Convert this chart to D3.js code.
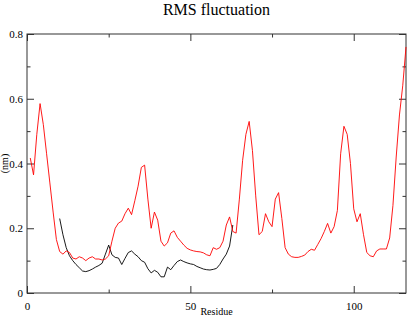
<!DOCTYPE html>
<html lang="en">
<head>
    <meta charset="UTF-8">
    <title>RMS fluctuation</title>
    <style>
        body { margin: 0; background: #fff; }
        svg { display: block; }
        text { font-family: "Liberation Serif", "DejaVu Serif", serif; fill: #000; }
    </style>
</head>
<body>
    <div id="chart"></div>
    <script src="https://d3js.org/d3.v7.min.js"></script>
    <script>
        // residue numbering of the first value in each series
        const redStart = 1
        const blackStart = 10

        // RMSF (nm), one value per residue
        const redValues = [
            0.417, 0.365, 0.49, 0.585, 0.52, 0.43, 0.34, 0.25, 0.165, 0.128,
            0.12, 0.13, 0.125, 0.108, 0.105, 0.112, 0.108, 0.10, 0.108, 0.112,
            0.105, 0.105, 0.102, 0.105, 0.115, 0.16, 0.20, 0.216, 0.222, 0.245,
            0.262, 0.242, 0.285, 0.33, 0.388, 0.395, 0.29, 0.20, 0.25, 0.225,
            0.16, 0.145, 0.155, 0.185, 0.192, 0.172, 0.16, 0.148, 0.138, 0.133,
            0.13, 0.128, 0.127, 0.124, 0.118, 0.115, 0.14, 0.135, 0.14, 0.16,
            0.21, 0.235, 0.19, 0.185, 0.29, 0.41, 0.49, 0.53, 0.44, 0.30,
            0.18, 0.19, 0.245, 0.22, 0.205, 0.29, 0.31, 0.23, 0.14, 0.12,
            0.112, 0.11, 0.11, 0.113, 0.117, 0.128, 0.135, 0.132, 0.15, 0.168,
            0.19, 0.215, 0.185, 0.205, 0.255, 0.43, 0.515, 0.49, 0.40, 0.26,
            0.22, 0.245, 0.18, 0.125, 0.115, 0.112, 0.13, 0.136, 0.136, 0.136,
            0.17, 0.27, 0.42, 0.55, 0.64, 0.76
        ]
        const blackValues = [
            0.23, 0.18, 0.14, 0.115, 0.10, 0.088, 0.078, 0.068, 0.066, 0.069,
            0.074, 0.08, 0.085, 0.092, 0.12, 0.148, 0.118, 0.11, 0.108, 0.088,
            0.107, 0.125, 0.13, 0.12, 0.112, 0.10, 0.095, 0.075, 0.062, 0.07,
            0.064, 0.05, 0.05, 0.08, 0.072, 0.085, 0.097, 0.102, 0.097, 0.093,
            0.09, 0.088, 0.082, 0.078, 0.074, 0.072, 0.071, 0.073, 0.076, 0.088,
            0.105, 0.12, 0.145, 0.21
        ]

        const xMajor = [0, 50, 100]
        const xMinor = [25, 75]
        const yMajor = [0, 0.2, 0.4, 0.6, 0.8]
        const yMinor = [0.1, 0.3, 0.5, 0.7]

        const width = 407
        const height = 318
        const margin = { top: 34, right: 1, bottom: 25, left: 27 }
        const innerW = width - margin.left - margin.right
        const innerH = height - margin.top - margin.bottom

        const x = d3.scaleLinear().domain([0, 116]).range([0, innerW])
        const y = d3.scaleLinear().domain([0, 0.8]).range([innerH, 0])

        const svg = d3.select('#chart')
            .append('svg')
            .attr('width', width)
            .attr('height', height)

        const g = svg.append('g')
            .attr('transform', `translate(${margin.left},${margin.top})`)

        // ticks, all pointing into the plot
        function ticks(axis, sel, vals, size, fmt) {
            sel.call(axis.tickValues(vals).tickSize(size).tickFormat(fmt))
            sel.select('.domain').remove()
            sel.selectAll('line').attr('stroke', '#333')
        }
        const blank = () => ''
        ticks(d3.axisBottom(x), g.append('g').attr('transform', `translate(0,${innerH})`), xMinor, -3.5, blank)
        ticks(d3.axisTop(x), g.append('g'), xMinor, -3.5, blank)
        ticks(d3.axisTop(x), g.append('g'), xMajor, -7, blank)
        ticks(d3.axisLeft(y), g.append('g'), yMinor, -3.5, blank)
        ticks(d3.axisRight(y), g.append('g').attr('transform', `translate(${innerW},0)`), yMinor, -3.5, blank)
        ticks(d3.axisRight(y), g.append('g').attr('transform', `translate(${innerW},0)`), yMajor, -7, blank)

        const xAxis = g.append('g').attr('transform', `translate(0,${innerH})`)
        ticks(d3.axisBottom(x), xAxis, xMajor, -7, d3.format('d'))
        xAxis.selectAll('text')
            .attr('y', 9)
            .attr('font-size', 11)
            .attr('font-family', '"Liberation Serif", serif')

        const yAxis = g.append('g')
        ticks(d3.axisLeft(y), yAxis, yMajor, -7, d => d === 0 ? '0' : d3.format('.1f')(d))
        yAxis.selectAll('text')
            .attr('x', -4)
            .attr('font-size', 11)
            .attr('font-family', '"Liberation Serif", serif')

        g.append('rect')
            .attr('width', innerW)
            .attr('height', innerH)
            .attr('fill', 'none')
            .attr('stroke', '#333')
            .attr('stroke-width', 1)

        const line = d3.line()
            .x(d => x(d[0]))
            .y(d => y(d[1]))

        g.append('path')
            .datum(blackValues.map((v, i) => [blackStart + i, v]))
            .attr('fill', 'none')
            .attr('stroke', '#000')
            .attr('stroke-width', 0.9)
            .attr('d', line)

        g.append('path')
            .datum(redValues.map((v, i) => [redStart + i, v]))
            .attr('fill', 'none')
            .attr('stroke', '#f00')
            .attr('stroke-width', 0.9)
            .attr('d', line)

        svg.append('text')
            .attr('x', margin.left + innerW / 2)
            .attr('y', 15)
            .attr('text-anchor', 'middle')
            .attr('font-size', 16)
            .text('RMS fluctuation')

        svg.append('text')
            .attr('x', margin.left + innerW / 2)
            .attr('y', 315)
            .attr('text-anchor', 'middle')
            .attr('font-size', 10)
            .text('Residue')

        svg.append('text')
            .attr('transform', `translate(8,${margin.top + innerH / 2}) rotate(-90)`)
            .attr('text-anchor', 'middle')
            .attr('font-size', 10)
            .text('(nm)')
    </script>
</body>
</html>
